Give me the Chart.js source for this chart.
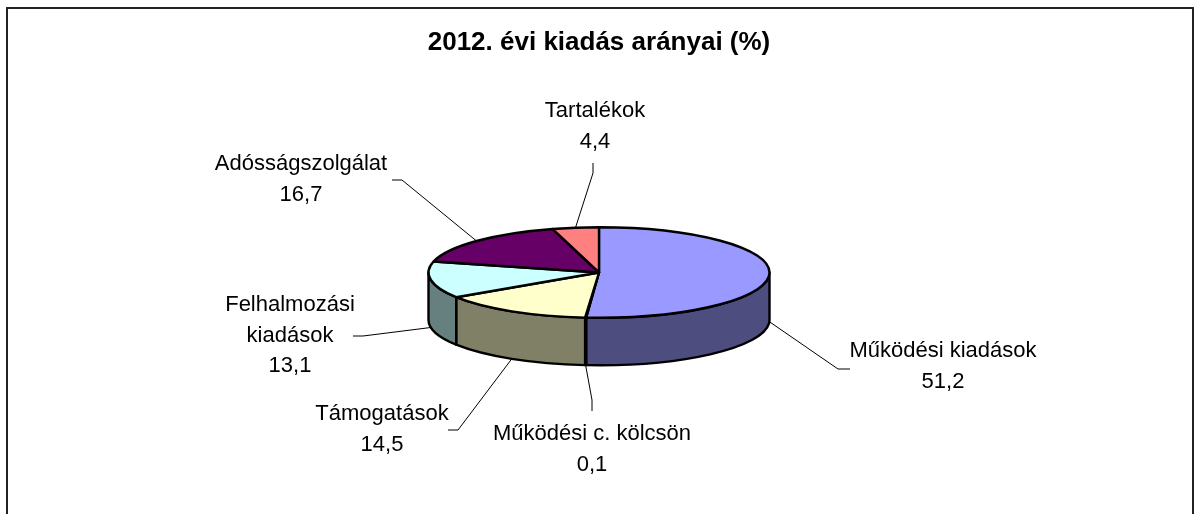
<!DOCTYPE html>
<html lang="hu">
<head>
<meta charset="utf-8">
<title>2012. évi kiadás arányai (%)</title>
<style>html,body{margin:0;padding:0;background:#fff}canvas{display:block}</style>
<script src="https://cdn.jsdelivr.net/npm/chart.js@4"></script>
</head>
<body>
<canvas id="c" width="1194" height="514"></canvas>
<script>
const titleText = '2012. évi kiadás arányai (%)';
const categories = ['Működési kiadások', 'Működési c. kölcsön', 'Támogatások', 'Felhalmozási kiadások', 'Adósságszolgálat', 'Tartalékok'];
const values = [51.2, 0.1, 14.5, 13.1, 16.7, 4.4];
const valueLabels = ['51,2', '0,1', '14,5', '13,1', '16,7', '4,4'];
const labelLines = [['Működési kiadások'], ['Működési c. kölcsön'], ['Támogatások'], ['Felhalmozási', 'kiadások'], ['Adósságszolgálat'], ['Tartalékok']];
const topColors = ['#9999FF', '#993366', '#FFFFCC', '#CCFFFF', '#660066', '#FF8080'];
const sideColors = ['#4D4D80', '#4D1A33', '#808066', '#668080', '#330033', '#804040'];

// layout only
const squash = 45.5 / 171.5, depth = 47.5;
const labelCenters = [[943, 351], [592, 434], [382, 414], [290, 305], [301, 164], [595, 111]];
const leaderElbows = [[[838, 369], [850, 369]], [[592, 400], [592, 411]], [[458, 430], [448, 430]], [[363, 336], [353, 336]], [[402, 180], [392, 180]], [[593, 173], [593, 163]]];
const lineGap = 30.5;

const framePlugin = {
  id: 'frame',
  beforeDraw(chart) {
    const c = chart.ctx;
    c.save();
    c.strokeStyle = '#222';
    c.lineWidth = 2;
    c.beginPath();
    c.moveTo(7, 516); c.lineTo(7, 8); c.lineTo(1193, 8); c.lineTo(1193, 516);
    c.stroke();
    c.restore();
  }
};

const pie3dPlugin = {
  id: 'pie3d',
  beforeDatasetsDraw(chart) {
    const c = chart.ctx;
    const arcs = chart.getDatasetMeta(0).data;
    c.save();
    c.lineJoin = 'round';
    // side wall: only the front half of the rim (canvas angles 0..PI) is visible
    arcs.forEach((a, i) => {
      const rx = a.outerRadius, ry = rx * squash;
      const a0 = Math.max(a.startAngle, 0), a1 = Math.min(a.endAngle, Math.PI);
      if (a1 <= a0) return;
      c.beginPath();
      c.ellipse(a.x, a.y, rx, ry, 0, a0, a1);
      c.lineTo(a.x + rx * Math.cos(a1), a.y + ry * Math.sin(a1) + depth);
      c.ellipse(a.x, a.y + depth, rx, ry, 0, a1, a0, true);
      c.closePath();
      c.fillStyle = sideColors[i];
      c.fill();
      c.strokeStyle = '#000';
      c.lineWidth = 2.4;
      c.stroke();
    });
    // top face
    arcs.forEach((a, i) => {
      const rx = a.outerRadius, ry = rx * squash;
      c.beginPath();
      c.moveTo(a.x, a.y);
      c.ellipse(a.x, a.y, rx, ry, 0, a.startAngle, a.endAngle);
      c.closePath();
      c.fillStyle = topColors[i];
      c.fill();
      c.strokeStyle = '#000';
      c.lineWidth = 2.4;
      c.stroke();
    });
    c.restore();
    return false;
  },
  afterDraw(chart) {
    const c = chart.ctx;
    const arcs = chart.getDatasetMeta(0).data;
    c.save();
    // leader lines start on the rim at each slice's middle angle
    arcs.forEach((a, i) => {
      const rx = a.outerRadius, ry = rx * squash;
      const m = (a.startAngle + a.endAngle) / 2;
      const front = Math.sin(m) >= -0.05;
      c.beginPath();
      c.moveTo(a.x + rx * Math.cos(m), a.y + ry * Math.sin(m) + (front ? depth : 0));
      leaderElbows[i].forEach(p => c.lineTo(p[0], p[1]));
      c.strokeStyle = '#000';
      c.lineWidth = 1;
      c.stroke();
    });
    c.fillStyle = '#000';
    c.font = '22px "Liberation Sans", Arial, sans-serif';
    c.textAlign = 'center';
    c.textBaseline = 'middle';
    arcs.forEach((a, i) => {
      const lines = labelLines[i].concat(valueLabels[i]);
      lines.forEach((t, k) => c.fillText(t, labelCenters[i][0], labelCenters[i][1] + k * lineGap));
    });
    c.restore();
  }
};

new Chart(document.getElementById('c'), {
  type: 'pie',
  data: {
    labels: categories,
    datasets: [{ data: values, backgroundColor: topColors, borderColor: '#000', borderWidth: 2 }]
  },
  options: {
    responsive: false,
    animation: false,
    layout: { padding: { left: 427.5, right: 423.5, top: 27, bottom: 69 } },
    plugins: {
      legend: { display: false },
      tooltip: { enabled: false },
      title: {
        display: true,
        text: titleText,
        color: '#000',
        font: { family: '"Liberation Sans", Arial, sans-serif', size: 26, weight: 'bold', lineHeight: 1.2 },
        padding: { top: 0, bottom: 41.8 }
      }
    }
  },
  plugins: [framePlugin, pie3dPlugin]
});
</script>
</body>
</html>
